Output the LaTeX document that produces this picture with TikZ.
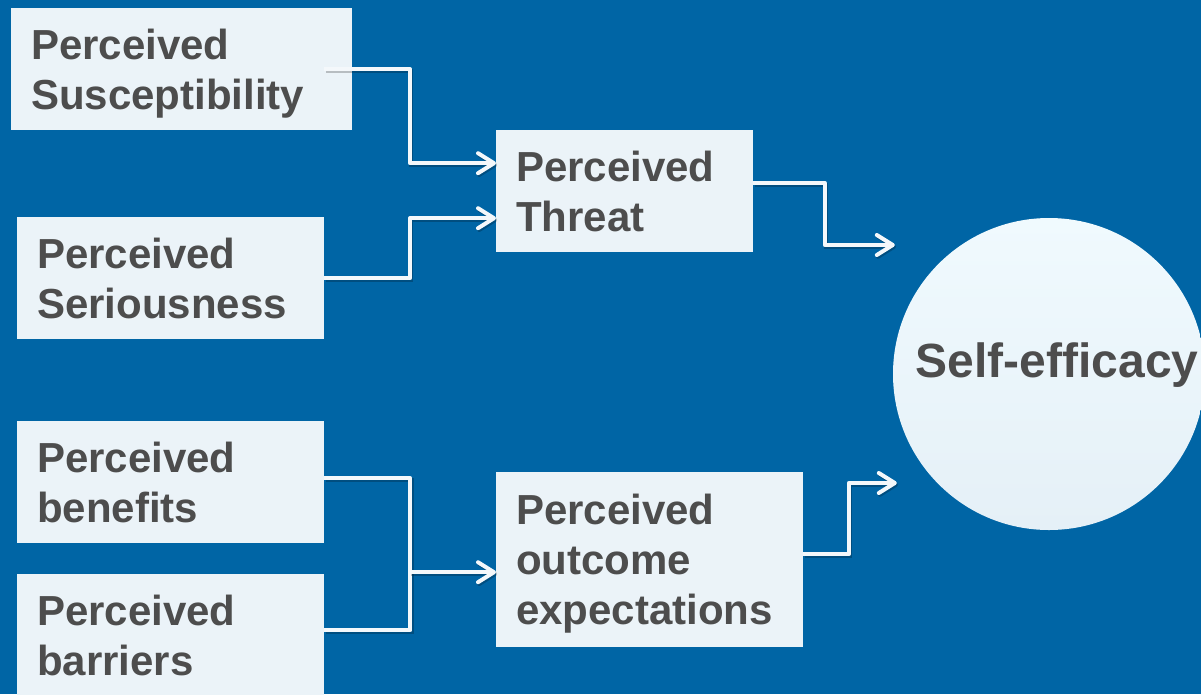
\documentclass[tikz,border=0pt]{standalone}
\usepackage{fontspec}
\setmainfont{Liberation Sans}
\usetikzlibrary{arrows.meta,calc}

\definecolor{bgblue}{HTML}{0065A5}
\definecolor{boxfill}{HTML}{EBF3F8}
\definecolor{txtgray}{HTML}{4D4D4D}
\definecolor{linewhite}{HTML}{F4F8FB}
\definecolor{circtop}{HTML}{F0FAFE}
\definecolor{circbot}{HTML}{E5F0F7}

\tikzset{
  factor/.style={fill=boxfill, text=txtgray, anchor=north west,
    font=\bfseries\fontsize{42}{50}\selectfont, align=left,
    inner xsep=20pt, inner ysep=0pt},
  twolines/.style={text depth=50pt},
  threelines/.style={text depth=100pt},
  conn/.style={draw=linewhite, line width=4pt, line join=round,
    preaction={draw=black, opacity=0.22, line width=4pt,
      transform canvas={shift={(1.2pt,-1.8pt)}}}},
  tipped/.style={-{Straight Barb[length=16pt,width=20pt,round]}},
  outcome/.style={circle, minimum size=312pt, inner sep=0pt,
    top color=circtop, bottom color=circbot, draw=none},
  outcomelabel/.style={text=txtgray, font=\bfseries\fontsize{48}{56}\selectfont,
    anchor=base, inner sep=0pt}
}

\begin{document}
\begin{tikzpicture}[x=1pt,y=-1pt]
  \fill[bgblue] (0,0) rectangle (1201,694);
  \useasboundingbox (0,0) rectangle (1201,694);
  \clip (0,0) rectangle (1201,694);

  % health-belief factors
  \node[factor, twolines, minimum height=122pt, text width=301pt] (sus) at (11,8)
    {Perceived\\Susceptibility};
  \node[factor, twolines, minimum height=122pt, text width=267pt] (ser) at (17,217)
    {Perceived\\Seriousness};
  \node[factor, twolines, minimum height=122pt, text width=267pt] (ben) at (17,421)
    {Perceived\\benefits};
  \node[factor, twolines, minimum height=122pt, text width=267pt] (bar) at (17,574)
    {Perceived\\barriers};

  % intermediate constructs
  \node[factor, twolines, minimum height=122pt, text width=217pt] (thr) at (496,130)
    {Perceived\\Threat};
  \node[factor, threelines, minimum height=175pt, text width=267pt] (out) at (496,472)
    {Perceived\\outcome\\expectations};

  % target construct
  \node[outcome] (se) at (1049,374) {};
  \node[outcomelabel] (selabel) at ($(se.center)+(8,3)$) {Self-efficacy};

  % susceptibility and seriousness feed the threat
  \draw[conn,tipped] ([xshift=-28pt]sus.east)
    -| ([xshift=-86pt,yshift=28pt]thr.west) -- ([yshift=28pt]thr.west);
  \draw[conn,tipped] (ser.east)
    -| ([xshift=-86pt,yshift=-27pt]thr.west) -- ([yshift=-27pt]thr.west);

  % benefits and barriers merge into outcome expectations
  \draw[conn] ([yshift=4pt]ben.east)
    -| ([xshift=86pt,yshift=5pt]bar.east) -- ([yshift=5pt]bar.east);
  \draw[conn,tipped] ([xshift=-86pt,yshift=-12.5pt]out.west)
    -- ([yshift=-12.5pt]out.west);

  % both constructs lead to self-efficacy
  \draw[conn,tipped] ([yshift=8pt]thr.east)
    -| ($(se.west)+(-68,-129)$) -- ($(se.west)+(2,-129)$);
  \draw[conn,tipped] ([yshift=5.5pt]out.east)
    -| ($(se.west)+(-44,109)$) -- ($(se.west)+(4,109)$);
\end{tikzpicture}
\end{document}
